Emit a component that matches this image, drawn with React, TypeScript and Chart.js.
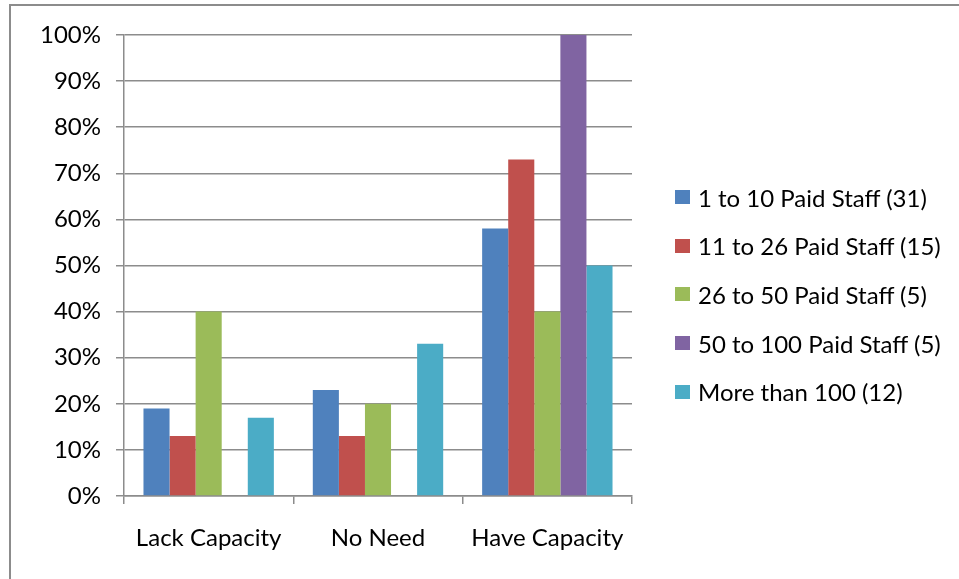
import React, { useEffect, useRef } from "react";
import { Chart, registerables } from "chart.js";

Chart.register(...registerables);

// Share of organisations by answer, grouped by paid-staff size
const categories = ["Lack Capacity", "No Need", "Have Capacity"];
const seriesNames = [
  "1 to 10 Paid Staff (31)",
  "11 to 26 Paid Staff (15)",
  "26 to 50 Paid Staff (5)",
  "50 to 100 Paid Staff (5)",
  "More than 100 (12)",
];
const staff1to10 = [19, 23, 58];
const staff11to26 = [13, 13, 73];
const staff26to50 = [40, 20, 40];
const staff50to100 = [0, 0, 100];
const staffOver100 = [17, 33, 50];
const seriesColors = ["#4F81BD", "#C0504D", "#9BBB59", "#8064A2", "#4BACC6"];
const yTicks = [0, 10, 20, 30, 40, 50, 60, 70, 80, 90, 100];

const FONT = "Lato, 'DejaVu Sans', sans-serif";
const GRID = "#8c8c8c";

export default function App() {
  const canvasRef = useRef<HTMLCanvasElement | null>(null);

  useEffect(() => {
    const canvas = canvasRef.current;
    if (!canvas) return;
    const values = [staff1to10, staff11to26, staff26to50, staff50to100, staffOver100];
    const chart = new Chart(canvas, {
      type: "bar",
      data: {
        labels: categories,
        datasets: seriesNames.map((name, i) => ({
          label: name,
          data: values[i],
          backgroundColor: seriesColors[i],
          borderWidth: 0,
          categoryPercentage: 0.77,
          barPercentage: 1,
        })),
      },
      options: {
        animation: false,
        responsive: false,
        devicePixelRatio: 1,
        layout: { padding: { left: 0, top: 35, right: 327, bottom: 0 } },
        plugins: {
          legend: { display: false },
          tooltip: { enabled: false },
        },
        scales: {
          x: {
            offset: true,
            grid: {
              offset: true,
              drawOnChartArea: false,
              drawTicks: true,
              tickLength: 8,
              color: GRID,
              lineWidth: 1.5,
            },
            border: { display: true, color: GRID, width: 1.5 },
            ticks: {
              color: "#000",
              padding: 20,
              font: { family: FONT, size: 24 },
            },
            afterFit: (scale: any) => {
              scale.height = 83;
            },
          },
          y: {
            min: 0,
            max: 100,
            afterBuildTicks: (scale: any) => {
              scale.ticks = yTicks.map((v) => ({ value: v }));
            },
            grid: {
              color: GRID,
              lineWidth: 1.5,
              tickLength: 8,
              drawTicks: true,
            },
            border: { display: true, color: GRID, width: 1.5 },
            ticks: {
              color: "#000",
              padding: 15,
              font: { family: FONT, size: 24 },
              callback: (v: any) => `${v}%`,
            },
            afterFit: (scale: any) => {
              scale.width = 124;
            },
          },
        },
      },
    });
    return () => chart.destroy();
  }, []);

  return (
    <div
      style={{
        position: "absolute",
        left: 0,
        top: 0,
        width: 959,
        height: 579,
        overflow: "hidden",
        background: "#fff",
      }}
    >
      <div
        style={{
          position: "absolute",
          left: 9,
          top: 4,
          width: 2000,
          height: 2000,
          border: "2px solid #8c8c8c",
        }}
      />
      <canvas
        ref={canvasRef}
        width={959}
        height={579}
        style={{ position: "absolute", left: 0, top: 0, width: 959, height: 579 }}
      />
      <div style={{ position: "absolute", left: 675, top: 173 }}>
        {seriesNames.map((name, i) => (
          <div
            key={name}
            style={{
              display: "flex",
              alignItems: "center",
              height: 48.6,
              fontFamily: FONT,
              fontSize: 24,
              color: "#000",
              whiteSpace: "nowrap",
            }}
          >
            <span
              style={{
                display: "inline-block",
                width: 15,
                height: 14,
                background: seriesColors[i],
                marginRight: 8,
              }}
            />
            <span>{name}</span>
          </div>
        ))}
      </div>
    </div>
  );
}
